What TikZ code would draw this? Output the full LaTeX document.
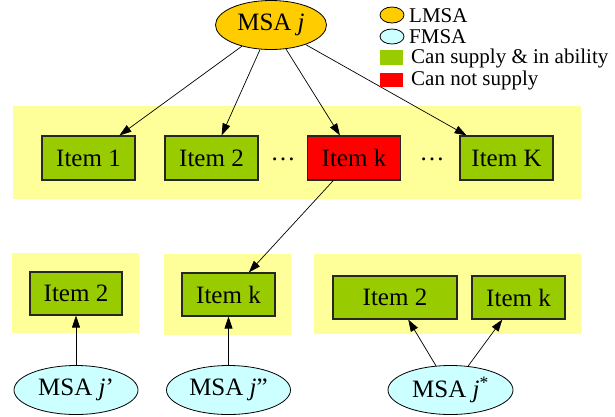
\documentclass[tikz,border=0pt]{standalone}
\usepackage{fontspec}
\setmainfont{Liberation Serif}
\usetikzlibrary{shapes.geometric,arrows.meta}
\definecolor{bandyellow}{HTML}{FFFF99}
\definecolor{itemgreen}{HTML}{99CC00}
\definecolor{itemred}{HTML}{FF0000}
\definecolor{leadorange}{HTML}{FFCC00}
\definecolor{followcyan}{HTML}{CCFFFF}
\begin{document}
\begin{tikzpicture}[x=1pt,y=-1pt,
  itembox/.style={draw=black!85, line width=1.1pt, fill=itemgreen,
    minimum height=44pt, minimum width=93pt, inner sep=0pt,
    font=\fontsize{25}{30}\selectfont},
  msa/.style={ellipse, draw, line width=0.8pt, inner sep=0pt,
    minimum height=49pt, font=\fontsize{25}{30}\selectfont},
  link/.style={-{Triangle[length=12pt,width=8pt]}, line width=0.7pt},
  band/.style={fill=bandyellow},
  legtext/.style={anchor=base west, inner sep=0pt,
    font=\fontsize{21}{25}\selectfont},
  dotsnode/.style={anchor=base, inner sep=0pt,
    font=\fontsize{25}{30}\selectfont}]
\useasboundingbox (0,0) rectangle (615,416);

% yellow groups
\fill[band] (13,106) rectangle (581,199);
\fill[band] (12,253) rectangle (139,333);
\fill[band] (164,254) rectangle (291,335);
\fill[band] (314,254) rectangle (581,334);

% leading agent
\node[msa, fill=leadorange, minimum width=111pt] (lead) at (271,25) {MSA \textit{j}};

% items offered to the leader
\node[itembox] (i1) at (88.5,158) {Item 1};
\node[itembox] (i2) at (211.5,158) {Item 2};
\node[itembox, fill=itemred] (ik) at (354,158) {Item k};
\node[itembox] (iK) at (506.5,158) {Item K};
\node[dotsnode] (dotsa) at (283,160) {…};
\node[dotsnode] (dotsb) at (432,160) {…};

% items of the followers
\node[itembox, minimum width=92pt, minimum height=43pt] (a2) at (76,293.5) {Item 2};
\node[itembox, minimum height=43pt] (bk) at (228.5,294.5) {Item k};
\node[itembox, minimum width=124pt, minimum height=43pt] (c2) at (395,297.5) {Item 2};
\node[itembox, minimum height=43pt] (ck) at (518.5,297.5) {Item k};

% following agents
\node[msa, fill=followcyan, minimum width=124pt] (fa) at (76,390) {MSA \textit{j}’};
\node[msa, fill=followcyan, minimum width=124pt] (fb) at (228.5,390) {MSA \textit{j}”};
\node[msa, fill=followcyan, minimum width=125pt] (fc) at (450.5,390) {MSA \textit{j}\textsuperscript{*}};

% connectors
\draw[link] (lead) -- (i1);
\draw[link] (lead) -- (i2);
\draw[link] (lead) -- (ik);
\draw[link] (lead) -- (iK);
\draw[link] (ik) -- (bk);
\draw[link] (fa) -- (a2);
\draw[link] (fb) -- (bk);
\draw[link] (fc) -- (c2);
\draw[link] (fc) -- (ck);

% legend
\node[ellipse, draw, line width=0.8pt, fill=leadorange, inner sep=0pt,
  minimum width=24pt, minimum height=16pt] (keylead) at (392,15) {};
\node[ellipse, draw, line width=0.8pt, fill=followcyan, inner sep=0pt,
  minimum width=24pt, minimum height=15pt] (keyfollow) at (392,36.5) {};
\node[fill=itemgreen, inner sep=0pt, minimum width=23pt, minimum height=15pt] (keygreen) at (391.5,57.5) {};
\node[fill=itemred, inner sep=0pt, minimum width=23pt, minimum height=14pt] (keyred) at (391.5,80) {};
\node[legtext] (tlead) at (409,22) {LMSA};
\node[legtext] (tfollow) at (409,43) {FMSA};
\node[legtext] (tgreen) at (411,63) {Can supply \& in ability};
\node[legtext] (tred) at (411,85) {Can not supply};
\end{tikzpicture}
\end{document}
